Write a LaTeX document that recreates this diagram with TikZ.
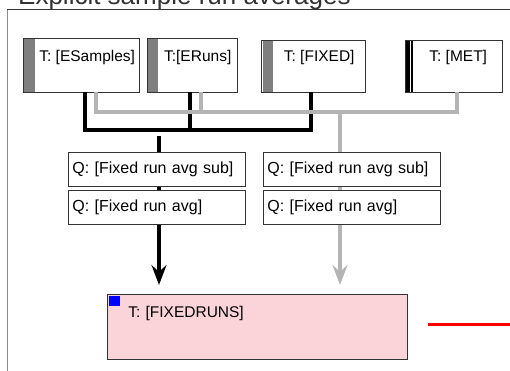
\documentclass[tikz,border=0pt]{standalone}
\usepackage{fontspec}
\setmainfont{Liberation Sans}
\usetikzlibrary{arrows.meta}
\definecolor{barg}{HTML}{7F7F7F}
\definecolor{lineg}{HTML}{B4B4B4}
\definecolor{edge}{HTML}{333333}
\definecolor{frameg}{HTML}{8C8C8C}
\definecolor{runpink}{HTML}{FBD4DA}

\begin{document}
\begin{tikzpicture}[x=1pt, y=-1pt,
  tbox/.style={inner sep=0pt, text height=23pt, text depth=31pt, anchor=north west, font=\fontsize{15.5}{18}\selectfont},
  qbox/.style={draw=edge, fill=white, line width=0.8pt, inner xsep=4pt, inner ysep=0pt, text width=169pt, minimum height=34pt, align=left, anchor=north west, font=\fontsize{16}{19}\selectfont},
  blkline/.style={black, line width=4pt},
  grline/.style={lineg, line width=4pt},
  flowtip/.style={-{Stealth[length=20pt, width=15pt, inset=7pt]}, shorten >=9pt}]

\useasboundingbox (0,0) rectangle (510,371);

% Frame and title
\draw[frameg, line width=1pt] (7,371) -- (7,10);
\draw[edge, line width=1pt] (7,10) -- (510,10);
\node[anchor=base west, inner sep=0pt, text=edge, font=\fontsize{26}{30}\selectfont] (title) at (18,4.5) {Explicit sample run averages};

% Source tables
\node[tbox, minimum width=104pt] (esamp) at (35,38) {T: [ESamples]};
\fill[barg] ([xshift=-12pt]esamp.north west) rectangle (esamp.south west);
\draw[edge, line width=0.8pt] ([xshift=-12pt]esamp.north west) rectangle (esamp.south east);

\node[tbox, minimum width=79pt] (eruns) at (158,38) {T:[ERuns]};
\fill[barg] ([xshift=-11pt]eruns.north west) rectangle (eruns.south west);
\draw[edge, line width=0.8pt] ([xshift=-11pt]eruns.north west) rectangle (eruns.south east);

\node[tbox, minimum width=92pt, text height=21pt] (fixed) at (273,40) {T: [FIXED]};
\fill[barg] ([xshift=-10pt]fixed.north west) rectangle (fixed.south west);
\draw[edge, line width=0.8pt] ([xshift=-12pt]fixed.north west) rectangle (fixed.south east);

\node[tbox, minimum width=88pt, text height=21pt] (met) at (414,40) {T: [MET]};
\fill[black] ([xshift=-9pt]met.north west) rectangle ([xshift=-4.5pt]met.south west);
\fill[black] ([xshift=-3pt]met.north west) rectangle ([xshift=-1.2pt]met.south west);
\draw[edge, line width=0.8pt] ([xshift=-9pt]met.north west) rectangle (met.south east);

% Black feeds
\coordinate (bus) at (0,130.5);
\draw[blkline] ([xshift=-2pt]esamp.south) |- ([xshift=-8pt]fixed.south |- bus) -- ([xshift=-8pt]fixed.south);
\draw[blkline] ([xshift=-7.5pt]eruns.south) -- ([xshift=-7.5pt]eruns.south |- bus);

% Grey feeds
\coordinate (jg) at (340,112);
\draw[grline] ([xshift=9pt]esamp.south) |- ([xshift=-1pt]met.south |- jg) -- ([xshift=-1pt]met.south);
\draw[grline] ([xshift=3pt]eruns.south) -- ([xshift=3pt]eruns.south |- jg);

% Target table
\node[draw=edge, fill=runpink, line width=0.8pt, anchor=north west, inner xsep=21pt, inner ysep=0pt,
  text width=258pt, text height=23pt, text depth=42pt, align=left, font=\fontsize{15.5}{18}\selectfont] (frun) at (107,294) {T: [FIXEDRUNS]};
\fill[blue] ([shift={(2,2)}]frun.north west) rectangle ++(11,10);

% Flows into target
\coordinate (jb) at (159,136);
\draw[blkline, flowtip] (jb) -- (jb |- frun.north);
\draw[grline, flowtip] (jg) -- (jg |- frun.north);

% Queries
\node[qbox] (qa1) at (68,152) {Q: [Fixed run avg sub]};
\node[qbox] (qa2) at (68,190) {Q: [Fixed run avg]};
\node[qbox] (qb1) at (263,152) {Q: [Fixed run avg sub]};
\node[qbox] (qb2) at (263,190) {Q: [Fixed run avg]};

% Outgoing link
\coordinate (rs) at (428,324);
\coordinate (re) at (510,324);
\draw[red, line width=3pt] (rs) -- (re);

\end{tikzpicture}
\end{document}
